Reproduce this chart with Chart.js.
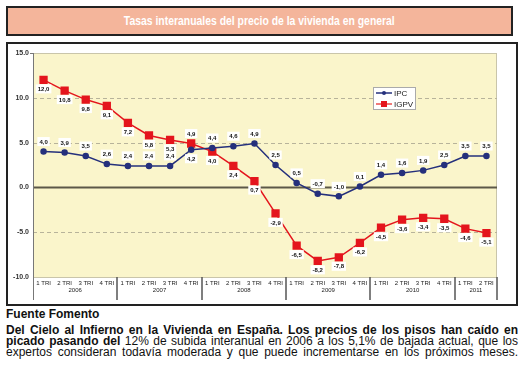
<!DOCTYPE html>
<html>
<head>
<meta charset="utf-8">
<script src="https://cdn.jsdelivr.net/npm/chart.js@4.4.1/dist/chart.umd.min.js"></script>
<style>
  body { margin: 0; background: #fff; width: 528px; height: 376px; position: relative; overflow: hidden; font-family: "Liberation Sans", Arial, sans-serif; }
  #banner { position: absolute; left: 6px; top: 6px; width: 507px; height: 30px; box-sizing: border-box; border: 2px solid #222; background: #f4b59b; color: #fff; font-weight: bold; font-size: 13px; text-align: center; line-height: 26px; }
  #banner span { display: inline-block; transform: scaleX(0.8); white-space: nowrap; }
  #box { position: absolute; left: 6px; top: 42px; width: 512px; height: 264px; box-sizing: border-box; border: 2px solid #222; }
  #fuente { position: absolute; left: 6px; top: 307px; font-weight: bold; font-size: 12px; color: #111; }
  #texto { position: absolute; left: 6px; top: 325px; width: 512px; font-size: 12px; line-height: 11px; text-align: justify; text-align-last: justify; color: #111; }
</style>
</head>
<body>
<div id="banner"><span>Tasas interanuales del precio de la vivienda en general</span></div>
<div id="box"><canvas id="grafico" width="508" height="260"></canvas></div>
<div id="fuente">Fuente Fomento</div>
<div id="texto"><b>Del Cielo al Infierno en la Vivienda en España. Los precios de los pisos han caído en picado pasando del</b> 12% de subida interanual en 2006 a los 5,1% de bajada actual, que los expertos consideran todavía moderada y que puede incrementarse en los próximos meses.</div>
<script>
// datos
const trimestres = ["1 TRI", "2 TRI", "3 TRI", "4 TRI", "1 TRI", "2 TRI", "3 TRI", "4 TRI",
  "1 TRI", "2 TRI", "3 TRI", "4 TRI", "1 TRI", "2 TRI", "3 TRI", "4 TRI",
  "1 TRI", "2 TRI", "3 TRI", "4 TRI", "1 TRI", "2 TRI"];
const anios = ["2006", "2007", "2008", "2009", "2010", "2011"];
const trimPorAnio = [4, 4, 4, 4, 4, 2];
const ipc = [4.0, 3.9, 3.5, 2.6, 2.4, 2.4, 2.4, 4.2, 4.4, 4.6, 4.9, 2.5,
  0.5, -0.7, -1.0, 0.1, 1.4, 1.6, 1.9, 2.5, 3.5, 3.5];
const igpv = [12.0, 10.8, 9.8, 9.1, 7.2, 5.8, 5.3, 4.9, 4.0, 2.4, 0.7, -2.9,
  -6.5, -8.2, -7.8, -6.2, -4.5, -3.6, -3.4, -3.5, -4.6, -5.1];
const yTicks = [-10, -5, 0, 5, 10, 15];

const azul = "#25307c";
const rojo = "#e4151d";

function fmt(v) {
  return v.toFixed(1).replace(".", ",");
}

// fondo, rejilla, etiquetas de años, leyenda
const decorado = {
  id: "decorado",
  beforeDatasetsDraw(chart) {
    const ctx = chart.ctx;
    const a = chart.chartArea;
    const y = chart.scales.y;
    ctx.save();
    ctx.fillStyle = "#faf5cb";
    ctx.fillRect(a.left, a.top, a.right - a.left, a.bottom - a.top);
    ctx.strokeStyle = "#c9c5aa";
    ctx.lineWidth = 1;
    ctx.strokeRect(a.left + 0.5, a.top + 0.5, a.right - a.left - 1, a.bottom - a.top);
    yTicks.forEach(function (t) {
      const py = Math.round(y.getPixelForValue(t)) + 0.5;
      if (t === 0) {
        ctx.setLineDash([]);
        ctx.strokeStyle = "#5c5848";
        ctx.lineWidth = 2;
      } else if (t === 15 || t === -10) {
        return;
      } else {
        ctx.setLineDash([4, 3]);
        ctx.strokeStyle = "#b7b39a";
        ctx.lineWidth = 1;
      }
      ctx.beginPath();
      ctx.moveTo(a.left, py);
      ctx.lineTo(a.right, py);
      ctx.stroke();
    });
    ctx.restore();
  },
  afterDraw(chart) {
    const ctx = chart.ctx;
    const a = chart.chartArea;
    ctx.save();
    // eje izquierdo
    ctx.strokeStyle = "#777";
    ctx.lineWidth = 1;
    ctx.beginPath();
    ctx.moveTo(a.left + 0.5, a.top);
    ctx.lineTo(a.left + 0.5, 256);
    ctx.moveTo(a.left - 3, a.top + 0.5);
    ctx.lineTo(a.left, a.top + 0.5);
    ctx.stroke();
    // separadores y años
    const paso = (a.right - a.left) / trimestres.length;
    let idx = 0;
    ctx.font = "6px 'Liberation Sans', Arial";
    ctx.fillStyle = "#222";
    ctx.textAlign = "center";
    ctx.textBaseline = "middle";
    anios.forEach(function (anio, i) {
      const x0 = a.left + idx * paso;
      const x1 = x0 + trimPorAnio[i] * paso;
      ctx.strokeStyle = "#555";
      ctx.lineWidth = 1.5;
      ctx.beginPath();
      ctx.moveTo(Math.round(x1), a.bottom);
      ctx.lineTo(Math.round(x1), 256);
      ctx.stroke();
      ctx.fillText(anio, (x0 + x1) / 2, 246);
      idx += trimPorAnio[i];
    });
    // etiquetas de valores
    ctx.font = "bold 6px 'Liberation Sans', Arial";
    chart.data.datasets.forEach(function (ds, di) {
      const meta = chart.getDatasetMeta(di);
      meta.data.forEach(function (pt, i) {
        let abajo = di === 1;
        if (i === 7) abajo = !abajo;
        const ty = pt.y + (abajo ? 9 : -10);
        const txt = fmt(ds.data[i]);
        const w = ctx.measureText(txt).width + 4;
        ctx.fillStyle = "#fff";
        ctx.fillRect(pt.x - w / 2, ty - 4.5, w, 9);
        ctx.fillStyle = "#111";
        ctx.fillText(txt, pt.x, ty + 0.5);
      });
    });
    // leyenda
    ctx.fillStyle = "#fff";
    ctx.fillRect(365, 43, 42, 22);
    ctx.strokeStyle = "#aaa";
    ctx.lineWidth = 1;
    ctx.strokeRect(365.5, 43.5, 42, 22);
    ctx.lineWidth = 1.5;
    ctx.strokeStyle = azul;
    ctx.beginPath();
    ctx.moveTo(368, 49);
    ctx.lineTo(384, 49);
    ctx.stroke();
    ctx.fillStyle = azul;
    ctx.beginPath();
    ctx.arc(376, 49, 2, 0, Math.PI * 2);
    ctx.fill();
    ctx.strokeStyle = "#f07a78";
    ctx.lineWidth = 2;
    ctx.beginPath();
    ctx.moveTo(368, 60);
    ctx.lineTo(384, 60);
    ctx.stroke();
    ctx.fillStyle = rojo;
    ctx.fillRect(373, 57, 6, 6);
    ctx.fillStyle = "#222";
    ctx.font = "8px 'Liberation Sans', Arial";
    ctx.textAlign = "left";
    ctx.fillText("IPC", 386, 49.5);
    ctx.fillText("IGPV", 386, 60.5);
    ctx.restore();
  }
};

const chart = new Chart(document.getElementById("grafico"), {
  type: "line",
  data: {
    labels: trimestres,
    datasets: [{
      label: "IPC",
      data: ipc,
      borderColor: azul,
      backgroundColor: azul,
      borderWidth: 1.5,
      pointStyle: "circle",
      pointRadius: 2.5,
      tension: 0
    }, {
      label: "IGPV",
      data: igpv,
      borderColor: rojo,
      backgroundColor: rojo,
      borderWidth: 1.5,
      pointStyle: "rect",
      pointRadius: 4.8,
      tension: 0
    }]
  },
  options: {
    responsive: false,
    animation: false,
    layout: { padding: { top: 9, right: 19, left: 0, bottom: 0 } },
    plugins: { legend: { display: false }, tooltip: { enabled: false } },
    scales: {
      x: {
        offset: true,
        grid: { display: false, offset: true, drawTicks: false, tickLength: 0 },
        border: { display: false },
        ticks: { font: { size: 6, family: "'Liberation Sans', Arial" }, color: "#222", padding: 3, maxRotation: 0, autoSkip: false },
        afterFit: function (s) { s.height = 27; }
      },
      y: {
        min: -10,
        max: 15,
        afterBuildTicks: function (s) { s.ticks = yTicks.map(function (v) { return { value: v }; }); },
        grid: { display: false, drawTicks: false, tickLength: 0 },
        border: { display: false },
        ticks: {
          font: { size: 7, weight: "bold", family: "'Liberation Sans', Arial" },
          color: "#333",
          padding: 4,
          callback: function (v) { return v.toFixed(1); }
        },
        afterFit: function (s) { s.width = 25; }
      }
    }
  },
  plugins: [decorado]
});
</script>
</body>
</html>
